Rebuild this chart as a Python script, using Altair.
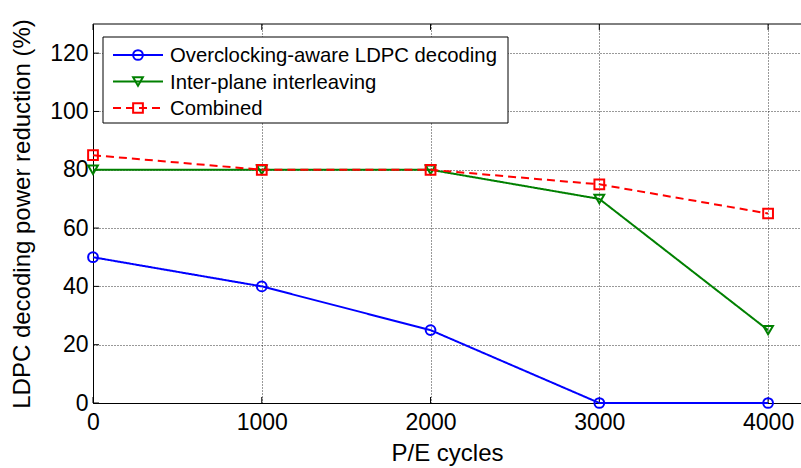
import altair as alt
import pandas as pd

# P/E cycle points and power reduction (%) for each scheme
pe_cycles = [0, 1000, 2000, 3000, 4000]
overclocking = [50, 40, 25, 0, 0]
interleaving = [80, 80, 80, 70, 25]
combined = [85, 80, 80, 75, 65]

series_names = ["Overclocking-aware LDPC decoding", "Inter-plane interleaving", "Combined"]
series_values = [overclocking, interleaving, combined]
series_colors = ["#0000ff", "#008000", "#ff0000"]
series_shapes = ["circle", "triangle-down", "square"]
series_dash = [[1, 0], [1, 0], [8, 5]]

x_ticks = [0, 1000, 2000, 3000, 4000]
y_ticks = [0, 20, 40, 60, 80, 100, 120]

FONT = "Liberation Sans"
W, H = 708, 379

x_scale = alt.Scale(domain=[0, 4195], nice=False, zero=False)
y_scale = alt.Scale(domain=[0, 130], nice=False)

x_axis = alt.Axis(values=x_ticks, grid=True, gridColor="#000000", gridDash=[1, 2],
                  gridOpacity=0.8, gridWidth=1, ticks=False, domain=True,
                  domainColor="#000000", domainWidth=1, labelFont=FONT, labelFontSize=23,
                  labelColor="#000000", labelPadding=8, labelFlush=False,
                  title="P/E cycles", titleFont=FONT, titleFontSize=24,
                  titleFontWeight="normal", titleColor="#000000", titlePadding=7,
                  titleX=354, titleAnchor="middle", format="d")
y_axis = alt.Axis(values=y_ticks, grid=True, gridColor="#000000", gridDash=[1, 2],
                  gridOpacity=0.8, gridWidth=1, ticks=False, domain=True,
                  domainColor="#000000", domainWidth=1, labelFont=FONT, labelFontSize=23,
                  labelColor="#000000", labelPadding=5, labelFlush=False,
                  title="LDPC decoding power reduction (%)", titleFont=FONT,
                  titleFontSize=24, titleFontWeight="normal", titleColor="#000000",
                  titlePadding=15)

rows = []
for name, vals in zip(series_names, series_values):
    for x, v in zip(pe_cycles, vals):
        rows.append({"pe": x, "value": v, "series": name})
df = pd.DataFrame(rows)

base = alt.Chart(df)

# empty layer carrying the axes and grid
axes = alt.Chart(pd.DataFrame({"pe": [0], "value": [0]})).mark_point(opacity=0).encode(
    x=alt.X("pe:Q", scale=x_scale, axis=x_axis),
    y=alt.Y("value:Q", scale=y_scale, axis=y_axis),
)

# top frame line plus inward ticks on the bottom, top and left edges
xt = pd.DataFrame({"t": x_ticks})
yt = pd.DataFrame({"t": y_ticks})
frame_layers = [
    alt.Chart(xt.head(1)).mark_rule(color="#000000", strokeWidth=1).encode(
        x=alt.value(0), x2=alt.value(W), y=alt.value(0)),
    alt.Chart(xt).mark_rule(color="#000000", strokeWidth=1).encode(
        x=alt.X("t:Q", scale=x_scale), y=alt.value(H), y2=alt.value(H - 6)),
    alt.Chart(xt).mark_rule(color="#000000", strokeWidth=1).encode(
        x=alt.X("t:Q", scale=x_scale), y=alt.value(0), y2=alt.value(6)),
    alt.Chart(yt).mark_rule(color="#000000", strokeWidth=1).encode(
        y=alt.Y("t:Q", scale=y_scale), x=alt.value(0), x2=alt.value(6)),
]

series_layers = []
for name, color, shape, dash in zip(series_names, series_colors, series_shapes, series_dash):
    sub = base.transform_filter(alt.datum.series == name)
    line = sub.mark_line(color=color, strokeWidth=2, strokeDash=dash).encode(
        x=alt.X("pe:Q", scale=x_scale), y=alt.Y("value:Q", scale=y_scale))
    pts = sub.mark_point(shape=shape, color=color, filled=False, size=95,
                         strokeWidth=2, opacity=1).encode(
        x=alt.X("pe:Q", scale=x_scale), y=alt.Y("value:Q", scale=y_scale))
    series_layers += [line, pts]

# legend box drawn in pixel space
legend_df = pd.DataFrame({"series": series_names})
legend_layers = [
    alt.Chart(legend_df.head(1)).mark_rect(fill="#ffffff", stroke="#000000",
                                           strokeWidth=1).encode(
        x=alt.value(10), x2=alt.value(415), y=alt.value(13), y2=alt.value(99))
]
for i, (name, color, shape, dash) in enumerate(zip(series_names, series_colors,
                                                    series_shapes, series_dash)):
    yy = 31 + i * 26.5
    one = alt.Chart(pd.DataFrame({"series": [name]}))
    legend_layers += [
        one.mark_rule(color=color, strokeWidth=2, strokeDash=dash).encode(
            x=alt.value(20), x2=alt.value(70), y=alt.value(yy)),
        one.mark_point(shape=shape, color=color, filled=False, size=95,
                       strokeWidth=2, opacity=1).encode(
            x=alt.value(45), y=alt.value(yy)),
        one.mark_text(align="left", baseline="middle", font=FONT, fontSize=20.3,
                      color="#000000").encode(
            x=alt.value(77), y=alt.value(yy + 1), text="series:N"),
    ]

chart = alt.layer(axes, *frame_layers, *series_layers, *legend_layers).properties(
    width=W, height=H,
    autosize=alt.AutoSizeParams(type="none"),
    padding={"left": 93, "top": 24, "right": 0, "bottom": 65},
    background="#ffffff",
).configure_view(strokeWidth=0, stroke="transparent")

chart.save("out.html", embed_options={"renderer": "svg", "actions": False})
